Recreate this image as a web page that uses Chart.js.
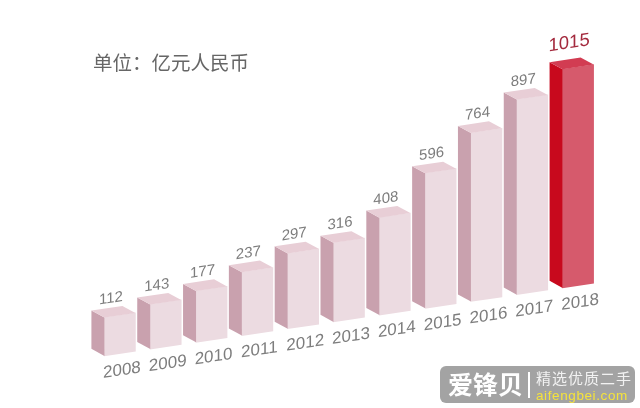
<!DOCTYPE html>
<html>
<head>
<meta charset="utf-8">
<script src="https://cdn.jsdelivr.net/npm/chart.js@4"></script>
<style>
  html, body { margin: 0; padding: 0; background: #fff; }
  #wrap { position: relative; width: 640px; height: 408px; overflow: hidden; }
  #unit { position: absolute; left: 93px; top: 49px; font: 19.5px "Noto Sans CJK SC"; line-height: 26px; color: #666; white-space: nowrap; }
  #mark { position: absolute; left: 440px; top: 366px; width: 195px; height: 37px; background: #a3a3a3; border-radius: 6px; font-family: "Noto Sans CJK SC"; }
  #mark div { position: absolute; white-space: nowrap; line-height: 1; }
  #mark .name { left: 8px; top: 5px; font-size: 25px; font-weight: 700; color: #fff; }
  #mark .line { left: 88px; top: 6px; width: 2px; height: 26px; background: #fff; }
  #mark .sub { left: 96px; top: 4px; font-size: 15px; letter-spacing: 1px; color: #f2f2f2; }
  #mark .url { left: 96px; top: 22px; font: 13.5px "Liberation Sans"; letter-spacing: .6px; color: #f5e33b; }
</style>
</head>
<body>
<div id="wrap">
  <canvas id="chart" width="640" height="408"></canvas>
  <div id="unit">单位：亿元人民币</div>
  <div id="mark">
    <div class="name">爱锋贝</div>
    <div class="line"></div>
    <div class="sub">精选优质二手</div>
    <div class="url">aifengbei.com</div>
  </div>
</div>
<script>
// data
const years = ['2008','2009','2010','2011','2012','2013','2014','2015','2016','2017','2018']
const values = [112,143,177,237,297,316,408,596,764,897,1015]

// colours of the three box faces
const frontColors = ['#ecdbe1','#ecdbe1','#ecdbe1','#ecdbe1','#ecdbe1','#ecdbe1','#ecdbe1','#ecdbe1','#ecdbe1','#ecdbe1','#d65a6c']
const sideColors = ['#c9a1ae','#c9a1ae','#c9a1ae','#c9a1ae','#c9a1ae','#c9a1ae','#c9a1ae','#c9a1ae','#c9a1ae','#c9a1ae','#c8091d']
const topColors = ['#e8ced6','#e8ced6','#e8ced6','#e8ced6','#e8ced6','#e8ced6','#e8ced6','#e8ced6','#e8ced6','#e8ced6','#d23c52']

const slope = -0.1485
const depthX = 13
const depthY = 9
const axisMin = -80

// the whole plot leans upward to the right
const leanPlugin = {
  id: 'lean',
  beforeDraw(chart) {
    chart.ctx.save()
    chart.ctx.transform(1, slope, 0, 1, 0, -slope * 120)
  },
  afterDraw(chart) {
    chart.ctx.restore()
  }
}

// side + top faces and the value labels
const boxPlugin = {
  id: 'box',
  afterDatasetsDraw(chart) {
    const ctx = chart.ctx
    chart.getDatasetMeta(0).data.forEach((bar, i) => {
      const left = bar.x - bar.width / 2
      const right = bar.x + bar.width / 2

      ctx.fillStyle = sideColors[i]
      ctx.beginPath()
      ctx.moveTo(left, bar.y)
      ctx.lineTo(left - depthX, bar.y - depthY)
      ctx.lineTo(left - depthX, bar.base - depthY)
      ctx.lineTo(left, bar.base)
      ctx.closePath()
      ctx.fill()

      ctx.fillStyle = topColors[i]
      ctx.beginPath()
      ctx.moveTo(left, bar.y)
      ctx.lineTo(left - depthX, bar.y - depthY)
      ctx.lineTo(right - depthX, bar.y - depthY)
      ctx.lineTo(right, bar.y)
      ctx.closePath()
      ctx.fill()

      const last = i === values.length - 1
      ctx.fillStyle = last ? '#a42a3e' : '#7d7d7d'
      ctx.font = (last ? '18.5px' : '15px') + ' "Liberation Sans"'
      ctx.textAlign = 'center'
      ctx.textBaseline = 'middle'
      ctx.fillText(String(values[i]), bar.x - 9, bar.y - (last ? 25 : 18))
    })
  }
}

const chart = new Chart(document.querySelector('#chart'), {
  type: 'bar',
  data: {
    labels: years,
    datasets: [{
      data: values,
      base: axisMin,
      backgroundColor: frontColors,
      barThickness: 31,
      clip: false
    }]
  },
  options: {
    responsive: false,
    animation: false,
    layout: { padding: { left: 97, right: 39, top: 98, bottom: 28 } },
    plugins: {
      legend: { display: false },
      tooltip: { enabled: false }
    },
    scales: {
      x: {
        grid: { display: false },
        border: { display: false },
        ticks: {
          color: '#7d7d7d',
          font: { family: 'Liberation Sans', size: 17 },
          padding: -1,
          labelOffset: 2,
          maxRotation: 0,
          autoSkip: false
        }
      },
      y: {
        display: false,
        min: axisMin,
        max: 1200
      }
    }
  },
  plugins: [leanPlugin, boxPlugin]
})
</script>
</body>
</html>
